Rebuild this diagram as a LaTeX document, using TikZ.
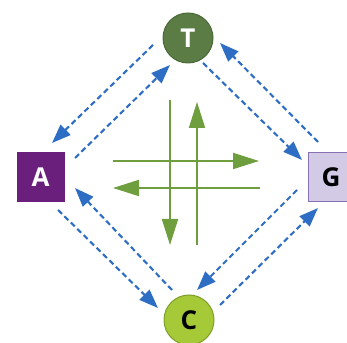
\documentclass[tikz,border=0pt]{standalone}
\usepackage{fontspec}
\setmainfont{Open Sans}
\usetikzlibrary{arrows.meta}

\definecolor{tfill}{HTML}{5B7D45}
\definecolor{tline}{HTML}{4A6837}
\definecolor{afill}{HTML}{6B1F7C}
\definecolor{gfill}{HTML}{D3CAE6}
\definecolor{gline}{HTML}{8872B5}
\definecolor{cfill}{HTML}{A6C937}
\definecolor{cline}{HTML}{7E9E2A}
\definecolor{linkblue}{HTML}{2E6DC4}
\definecolor{flowgreen}{HTML}{6E9E3E}

\begin{document}
\begin{tikzpicture}[x=1pt,y=1pt,
  base/.style={font=\fontsize{26}{26}\selectfont\bfseries, inner sep=0pt},
  circ/.style={base, circle, minimum size=50pt, line width=1pt},
  sq/.style={base, rectangle, minimum width=47pt, minimum height=49pt, line width=1pt},
  link/.style={draw=linkblue, line width=2.1pt, dash pattern=on 5.5pt off 3.5pt,
    -{Triangle[length=19pt,width=14pt,fill=linkblue]}},
  flow/.style={draw=flowgreen, line width=2pt,
    -{Triangle[length=26pt,width=16pt,fill=flowgreen]}}]
\useasboundingbox (0,0) rectangle (347,342);
\clip (0,0) rectangle (347,342);

% bases
\node[circ, fill=tfill, draw=tline, text=white] (T) at (188,304) {T};
\node[sq, fill=afill, draw=afill, text=white] (A) at (40.5,164.5) {A};
\node[sq, fill=gfill, draw=gline, text=black, minimum width=46pt] (G) at (331,164.5) {G};
\node[circ, fill=cfill, draw=cline, text=black] (C) at (189,22) {C};

% paired dashed links between neighbouring bases
\draw[link] ([shift={(-35,-7)}]T.center) -- ([shift={(11.5,34.5)}]A.center);
\draw[link] ([shift={(34.5,19.5)}]A.center) -- ([shift={(-18,-27)}]T.center);
\draw[link] ([shift={(-13,35.5)}]G.center) -- ([shift={(32,-5)}]T.center);
\draw[link] ([shift={(15,-25)}]T.center) -- ([shift={(-29,17.5)}]G.center);
\draw[link] ([shift={(-34,-12.5)}]G.center) -- ([shift={(8,30)}]C.center);
\draw[link] ([shift={(31,15)}]C.center) -- ([shift={(-13,-30.5)}]G.center);
\draw[link] ([shift={(-17,30)}]C.center) -- ([shift={(34.5,-10.5)}]A.center);
\draw[link] ([shift={(17.5,-32.5)}]A.center) -- ([shift={(-31,12)}]C.center);

% central cross of flows
\coordinate (downS) at (170,242);
\coordinate (downE) at (170,97);
\coordinate (upS) at (197,97);
\coordinate (upE) at (197,240);
\coordinate (rightS) at (113,181);
\coordinate (rightE) at (259,181);
\coordinate (leftS) at (260,154);
\coordinate (leftE) at (113,154);
\draw[flow] (downS) -- (downE);
\draw[flow] (upS) -- (upE);
\draw[flow] (rightS) -- (rightE);
\draw[flow] (leftS) -- (leftE);
\end{tikzpicture}
\end{document}
